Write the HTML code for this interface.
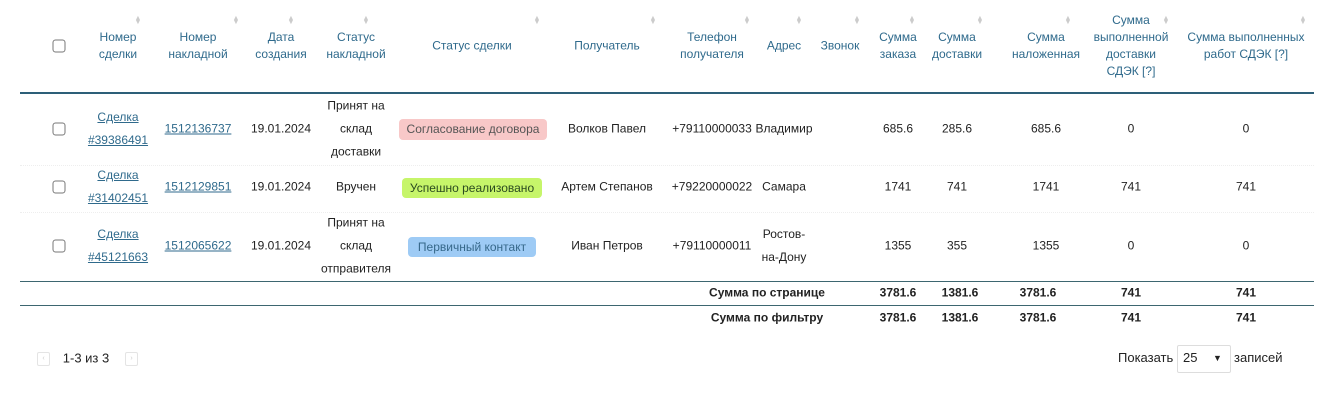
<!DOCTYPE html>
<html><head><meta charset="utf-8"><style>
body{margin:0;width:1334px;height:400px;background:#fff;position:relative;overflow:hidden;font-family:"Liberation Sans","DejaVu Sans",sans-serif;font-size:12px;color:#222}
.c{position:absolute;transform:translate(-50%,-50%);text-align:center;white-space:nowrap;line-height:23px}
.h{color:#2f6a8c;line-height:17px}
.a{color:#2f6a8c;text-decoration:underline}
.s{position:absolute;color:#ccc;font-size:7px;line-height:4px;transform:translate(-50%,0)}
.cb{position:absolute;width:11px;height:11px;border:1.5px solid #777;border-radius:3px;background:#fff;transform:translate(-50%,-50%)}
.ln{position:absolute;left:20px;width:1294px}
.b{font-weight:bold}
.bd{position:absolute;border-radius:4px;text-align:center;line-height:20px}
</style></head><body>
<div class="cb" style="left:59px;top:46px"></div>
<div class="c h" style="left:118px;top:46px">Номер<br>сделки</div>
<div class="c h" style="left:198px;top:46px">Номер<br>накладной</div>
<div class="c h" style="left:281px;top:46px">Дата<br>создания</div>
<div class="c h" style="left:356px;top:46px">Статус<br>накладной</div>
<div class="c h" style="left:472px;top:46px">Статус сделки</div>
<div class="c h" style="left:607px;top:46px">Получатель</div>
<div class="c h" style="left:712px;top:46px">Телефон<br>получателя</div>
<div class="c h" style="left:784px;top:46px">Адрес</div>
<div class="c h" style="left:840px;top:46px">Звонок</div>
<div class="c h" style="left:898px;top:46px">Сумма<br>заказа</div>
<div class="c h" style="left:957px;top:46px">Сумма<br>доставки</div>
<div class="c h" style="left:1046px;top:46px">Сумма<br>наложенная</div>
<div class="c h" style="left:1131px;top:46px">Сумма<br>выполненной<br>доставки<br>СДЭК [?]</div>
<div class="c h" style="left:1246px;top:46px">Сумма выполненных<br>работ СДЭК [?]</div>
<div class="s" style="left:138px;top:17px">▲<br>▼</div>
<div class="s" style="left:236px;top:17px">▲<br>▼</div>
<div class="s" style="left:291px;top:17px">▲<br>▼</div>
<div class="s" style="left:366px;top:17px">▲<br>▼</div>
<div class="s" style="left:537px;top:17px">▲<br>▼</div>
<div class="s" style="left:653px;top:17px">▲<br>▼</div>
<div class="s" style="left:747px;top:17px">▲<br>▼</div>
<div class="s" style="left:799px;top:17px">▲<br>▼</div>
<div class="s" style="left:857px;top:17px">▲<br>▼</div>
<div class="s" style="left:912px;top:17px">▲<br>▼</div>
<div class="s" style="left:980px;top:17px">▲<br>▼</div>
<div class="s" style="left:1068px;top:17px">▲<br>▼</div>
<div class="s" style="left:1166px;top:17px">▲<br>▼</div>
<div class="s" style="left:1303px;top:17px">▲<br>▼</div>
<div class="ln" style="top:92px;height:2px;background:#2d5f78"></div>

<div class="cb" style="left:59px;top:129px"></div>
<div class="c a" style="left:118px;top:129px">Сделка<br>#39386491</div>
<div class="c a" style="left:198px;top:129px">1512136737</div>
<div class="c" style="left:281px;top:129px">19.01.2024</div>
<div class="c" style="left:356px;top:129px">Принят на<br>склад<br>доставки</div>
<div class="bd" style="left:399px;top:119px;width:148px;height:21px;background:#f8c8c8;color:#555">Согласование договора</div>
<div class="c" style="left:607px;top:129px">Волков Павел</div>
<div class="c" style="left:712px;top:129px">+79110000033</div>
<div class="c" style="left:784px;top:129px">Владимир</div>
<div class="c" style="left:898px;top:129px">685.6</div>
<div class="c" style="left:957px;top:129px">285.6</div>
<div class="c" style="left:1046px;top:129px">685.6</div>
<div class="c" style="left:1131px;top:129px">0</div>
<div class="c" style="left:1246px;top:129px">0</div>
<div class="ln" style="top:165px;border-top:1px dotted #eee"></div>

<div class="cb" style="left:59px;top:187px"></div>
<div class="c a" style="left:118px;top:187px">Сделка<br>#31402451</div>
<div class="c a" style="left:198px;top:187px">1512129851</div>
<div class="c" style="left:281px;top:187px">19.01.2024</div>
<div class="c" style="left:356px;top:187px">Вручен</div>
<div class="bd" style="left:402px;top:178px;width:140px;height:20px;background:#c6f56a;color:#2a4a20">Успешно реализовано</div>
<div class="c" style="left:607px;top:187px">Артем Степанов</div>
<div class="c" style="left:712px;top:187px">+79220000022</div>
<div class="c" style="left:784px;top:187px">Самара</div>
<div class="c" style="left:898px;top:187px">1741</div>
<div class="c" style="left:957px;top:187px">741</div>
<div class="c" style="left:1046px;top:187px">1741</div>
<div class="c" style="left:1131px;top:187px">741</div>
<div class="c" style="left:1246px;top:187px">741</div>
<div class="ln" style="top:212px;border-top:1px dotted #eee"></div>

<div class="cb" style="left:59px;top:246px"></div>
<div class="c a" style="left:118px;top:246px">Сделка<br>#45121663</div>
<div class="c a" style="left:198px;top:246px">1512065622</div>
<div class="c" style="left:281px;top:246px">19.01.2024</div>
<div class="c" style="left:356px;top:246px">Принят на<br>склад<br>отправителя</div>
<div class="bd" style="left:408px;top:237px;width:128px;height:20px;background:#9ecbf5;color:#36688a">Первичный контакт</div>
<div class="c" style="left:607px;top:246px">Иван Петров</div>
<div class="c" style="left:712px;top:246px">+79110000011</div>
<div class="c" style="left:784px;top:246px">Ростов-<br>на-Дону</div>
<div class="c" style="left:898px;top:246px">1355</div>
<div class="c" style="left:957px;top:246px">355</div>
<div class="c" style="left:1046px;top:246px">1355</div>
<div class="c" style="left:1131px;top:246px">0</div>
<div class="c" style="left:1246px;top:246px">0</div>

<div class="ln" style="top:281px;height:1px;background:#3d6670"></div>
<div class="c b" style="left:767px;top:293px">Сумма по странице</div>
<div class="c b" style="left:898px;top:293px">3781.6</div>
<div class="c b" style="left:960px;top:293px">1381.6</div>
<div class="c b" style="left:1038px;top:293px">3781.6</div>
<div class="c b" style="left:1131px;top:293px">741</div>
<div class="c b" style="left:1246px;top:293px">741</div>
<div class="ln" style="top:305px;height:1px;background:#3d6670"></div>
<div class="c b" style="left:767px;top:318px">Сумма по фильтру</div>
<div class="c b" style="left:898px;top:318px">3781.6</div>
<div class="c b" style="left:960px;top:318px">1381.6</div>
<div class="c b" style="left:1038px;top:318px">3781.6</div>
<div class="c b" style="left:1131px;top:318px">741</div>
<div class="c b" style="left:1246px;top:318px">741</div>

<div style="position:absolute;left:37px;top:352px;width:11px;height:12px;border:1px solid #e4e4e4;border-radius:2px;color:#ccc;font-size:7px;line-height:12px;text-align:center">‹</div>
<div class="c" style="left:86px;top:358px;font-size:13px">1-3 из 3</div>
<div style="position:absolute;left:125px;top:352px;width:11px;height:12px;border:1px solid #e4e4e4;border-radius:2px;color:#ccc;font-size:7px;line-height:12px;text-align:center">›</div>
<div style="position:absolute;left:1118px;top:350px;font-size:13px;line-height:16px">Показать</div>
<div style="position:absolute;left:1177px;top:345px;width:52px;height:26px;border:1px solid #ddd;border-radius:2px;background:#fff"></div>
<div style="position:absolute;left:1183px;top:350px;font-size:13px;line-height:16px">25</div>
<div style="position:absolute;left:1213px;top:351px;font-size:9px;line-height:14px">▼</div>
<div style="position:absolute;left:1234px;top:350px;font-size:13px;line-height:16px">записей</div>
</body></html>
